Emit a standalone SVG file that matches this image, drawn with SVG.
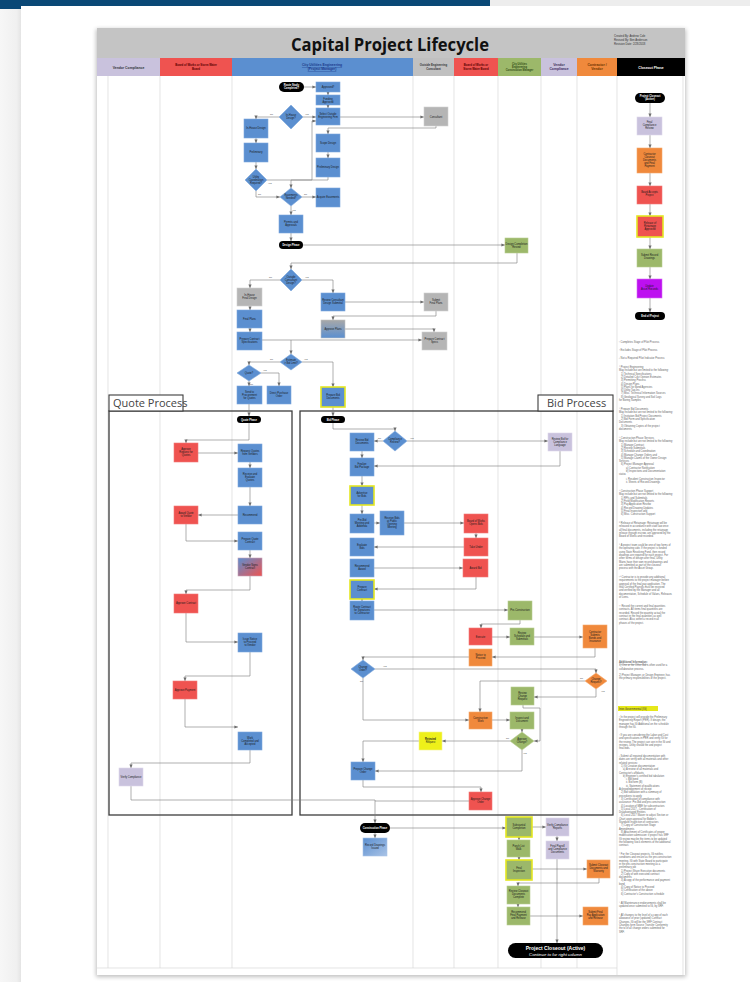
<svg xmlns="http://www.w3.org/2000/svg" width="750" height="982" viewBox="0 0 750 982">
<defs>
<marker id="ah" markerWidth="4" markerHeight="4" refX="3.6" refY="2" orient="auto" markerUnits="userSpaceOnUse"><path d="M0,0.4 L3.8,2 L0,3.6 Z" fill="#6e6e6e"/></marker>
<linearGradient id="gb" x1="0" y1="0" x2="0" y2="1"><stop offset="0" stop-color="#a8a8a8"/><stop offset="1" stop-color="#5b8fd0"/></linearGradient>
<linearGradient id="br" x1="0" y1="0" x2="1" y2="1"><stop offset="0" stop-color="#5b8fd0"/><stop offset="1" stop-color="#ef5350"/></linearGradient>
<linearGradient id="bw" x1="0" y1="0" x2="1" y2="1"><stop offset="0" stop-color="#5b8fd0"/><stop offset="1" stop-color="#a9c3e6"/></linearGradient>
<linearGradient id="edge" x1="0" y1="0" x2="1" y2="0"><stop offset="0" stop-color="#f7f7f7"/><stop offset=".8" stop-color="#f0f0f0"/><stop offset="1" stop-color="#e4e4e4"/></linearGradient>
<filter id="sh" x="-5%" y="-5%" width="110%" height="110%"><feGaussianBlur stdDeviation="2"/></filter>
<style>
.b{fill:#5b8fd0;stroke:#7ea7dc;stroke-width:.6}
.r{fill:#ef5350;stroke:#f27a78;stroke-width:.6}
.g{fill:#b5b5b5;stroke:#cfcfcf;stroke-width:.6}
.gr{fill:#9cb86a;stroke:#b7cc8f;stroke-width:.6}
.l{fill:#c9c2dd;stroke:#ddd8ea;stroke-width:.6}
.o{fill:#f0893c;stroke:#f5a86c;stroke-width:.6}
.y{fill:#eef01a;stroke:#f6f58a;stroke-width:.6}
.m{fill:#bd10f0;stroke:#d66cf6;stroke-width:.6}
.yb{stroke:#e4e622;stroke-width:1.6}
.k{fill:#000}
.t{font-family:"Liberation Sans",Arial,sans-serif;font-size:2.6px;fill:#1a1a1a;text-anchor:middle}
.tw{font-family:"Liberation Sans",Arial,sans-serif;font-size:2.6px;fill:#fff;text-anchor:middle;font-weight:bold}
.yn{font-family:"Liberation Sans",Arial,sans-serif;font-size:2.3px;fill:#444}
.h{font-family:"Liberation Sans",Arial,sans-serif;font-size:3.4px;font-weight:bold;text-anchor:middle}
.n{font-family:"Liberation Sans",Arial,sans-serif;font-size:2.6px;fill:#666}
.lane{stroke:#d9d9d9;stroke-width:.7}
.c path{fill:none;stroke:#7a7a7a;stroke-width:.6}
.c .a{marker-end:url(#ah)}
.box{fill:none;stroke:#3c3c3c;stroke-width:1.3}
.lbl{font-family:"Open Sans","Liberation Sans",sans-serif;font-size:11px;fill:#444}
</style>
</defs>

<!-- page chrome -->
<rect width="750" height="982" fill="#ffffff"/>
<rect x="0" y="0" width="21" height="982" fill="url(#edge)"/>
<rect x="0" y="0" width="490" height="6" fill="#0a4876"/>
<rect x="490" y="0" width="260" height="6" fill="#ededed"/>
<rect x="0" y="6" width="21" height="3" fill="#0a4876"/>

<!-- sheet -->
<rect x="96" y="29" width="590" height="948" fill="#000" opacity=".25" filter="url(#sh)"/>
<rect x="97" y="28" width="588" height="947" fill="#ffffff"/>

<!-- title band -->
<rect x="97" y="28" width="588" height="30" fill="#c4c4c4"/>
<text x="390" y="51" font-family="Open Sans,Liberation Sans,sans-serif" font-size="17" font-weight="bold" fill="#111" text-anchor="middle" textLength="198" lengthAdjust="spacingAndGlyphs">Capital Project Lifecycle</text>
<g class="n" fill="#333">
<text x="614" y="37" style="font-size:2.8px;fill:#333">Created By: Andrew Cole</text>
<text x="614" y="41" style="font-size:2.8px;fill:#333">Revised By: Ben Anderson</text>
<text x="614" y="45" style="font-size:2.8px;fill:#333">Revision Date: 2/28/2018</text>
</g>

<!-- lane headers -->
<g id="lane-headers">
<rect x="97" y="58" width="63" height="18" fill="#c9c2dd"/>
<rect x="160" y="58" width="72" height="18" fill="#ef5350"/>
<rect x="232" y="58" width="181" height="18" fill="#5b8fd0"/>
<rect x="413" y="58" width="41" height="18" fill="#c0c0c0"/>
<rect x="454" y="58" width="44" height="18" fill="#ef5350"/>
<rect x="498" y="58" width="43" height="18" fill="#9cb86a"/>
<rect x="541" y="58" width="36" height="18" fill="#c9c2dd"/>
<rect x="577" y="58" width="40" height="18" fill="#f0893c"/>
<rect x="617" y="58" width="68" height="18" fill="#000"/>
<text class="h" x="128.5" y="68.5" fill="#333">Vendor Compliance</text>
<text class="h" x="196" y="66" fill="#5a0000" style="font-size:2.8px">Board of Works or Storm Water</text>
<text class="h" x="196" y="69.5" fill="#5a0000" style="font-size:2.8px">Board</text>
<text class="h" x="322" y="66" fill="#1b3b8a" text-decoration="underline">City Utilities Engineering</text>
<text class="h" x="322" y="70" fill="#1b3b8a" text-decoration="underline">(Project Manager)</text>
<text class="h" x="433.5" y="66" fill="#333" style="font-size:2.8px">Outside Engineering</text>
<text class="h" x="433.5" y="69.5" fill="#333" style="font-size:2.8px">Consultant</text>
<text class="h" x="476" y="66" fill="#5a0000" style="font-size:2.8px">Board of Works or</text>
<text class="h" x="476" y="69.5" fill="#5a0000" style="font-size:2.8px">Storm Water Board</text>
<text class="h" x="519.5" y="64.5" fill="#2f4a12" style="font-size:2.6px">City Utilities</text>
<text class="h" x="519.5" y="67.8" fill="#2f4a12" style="font-size:2.6px">Engineering</text>
<text class="h" x="519.5" y="71.1" fill="#2f4a12" style="font-size:2.6px">Construction Manager</text>
<text class="h" x="559" y="66" fill="#3a2d5c">Vendor</text>
<text class="h" x="559" y="70" fill="#3a2d5c">Compliance</text>
<text class="h" x="597" y="66" fill="#6a3300">Contractor /</text>
<text class="h" x="597" y="70" fill="#6a3300">Vendor</text>
<text class="h" x="651" y="68.5" fill="#fff">Closeout Phase</text>
</g>

<!-- lane dividers -->
<g id="lanes">
<line class="lane" x1="160" y1="76" x2="160" y2="968"/>
<line class="lane" x1="232" y1="76" x2="232" y2="968"/>
<line class="lane" x1="413" y1="76" x2="413" y2="968"/>
<line class="lane" x1="454" y1="76" x2="454" y2="968"/>
<line class="lane" x1="498" y1="76" x2="498" y2="968"/>
<line class="lane" x1="541" y1="76" x2="541" y2="968"/>
<line class="lane" x1="577" y1="76" x2="577" y2="968"/>
<line class="lane" x1="617" y1="76" x2="617" y2="975"/>
<line class="lane" x1="683" y1="76" x2="683" y2="975"/>
<line class="lane" x1="108" y1="76" x2="108" y2="968"/>
<line class="lane" x1="97" y1="968" x2="617" y2="968"/>
</g>

<!-- process frames -->
<g id="quote-frame">
<rect class="box" x="109" y="411" width="183" height="404"/>
<rect x="109" y="395" width="74" height="16" fill="#fff" stroke="#3c3c3c" stroke-width="1.1"/>
<text class="lbl" x="113" y="407">Quote Process</text>
</g>
<g id="bid-frame">
<rect class="box" x="300" y="411" width="313" height="404"/>
<rect x="538" y="395" width="75" height="16" fill="#fff" stroke="#3c3c3c" stroke-width="1.1"/>
<text class="lbl" x="547" y="407">Bid Process</text>
</g>

<!-- connectors -->
<g id="connectors" class="c">
<!-- planning -->
<path class="a" d="M304,87 H316"/>
<path class="a" d="M328,92 V95"/>
<path class="a" d="M328,105 V108"/>
<path class="a" d="M303,117 H316"/>
<path class="a" d="M340,117 H424"/>
<path class="a" d="M436,126 V128 H328 V134"/>
<path class="a" d="M279,117 H256 V119"/>
<path class="a" d="M256,138 V143"/>
<path class="a" d="M256,162 V169"/>
<path class="a" d="M267,180 H312 V121 H316"/>
<path class="a" d="M328,152 V158"/>
<path class="a" d="M328,177 V180 H291 V188"/>
<path class="a" d="M256,191 V197 H280"/>
<path class="a" d="M302,197 H316"/>
<path class="a" d="M291,206 V215"/>
<path class="a" d="M291,233 V241"/>
<!-- design -->
<path class="a" d="M303,245 H505"/>
<path class="a" d="M517,253 V263 H291 V269"/>
<path class="a" d="M280,280 H250 V288"/>
<path class="a" d="M250,306 V310"/>
<path class="a" d="M250,328 V332"/>
<path class="a" d="M302,280 H333 V293"/>
<path class="a" d="M345,302 H424"/>
<path class="a" d="M436,311 V316 H333 V320"/>
<path class="a" d="M345,329 H434 V332"/>
<path class="a" d="M262,340 H422"/>
<path class="a" d="M291,340 V354"/>
<path class="a" d="M280,362 H249 V365"/>
<path class="a" d="M261,373 H279 V386"/>
<path class="a" d="M249,381 V386"/>
<path class="a" d="M302,362 H333 V387"/>
<path class="a" d="M249,404 V416"/>
<path class="a" d="M333,407 V416"/>
<!-- quote -->
<path class="a" d="M249,423 V440 H186 V443"/>
<path class="a" d="M198,453 H238"/>
<path class="a" d="M250,462 V468"/>
<path class="a" d="M250,487 V506"/>
<path class="a" d="M238,515 H198"/>
<path class="a" d="M186,524 V541 H238"/>
<path class="a" d="M250,550 V558"/>
<path class="a" d="M250,576 V590 H186 V594"/>
<path class="a" d="M186,613 V642 H238"/>
<path class="a" d="M250,652 V676 H185 V681"/>
<path class="a" d="M185,699 V727 H238"/>
<path class="a" d="M250,750 V763 H131 V768"/>
<path d="M131,786 V800 H375"/>
<!-- bid -->
<path class="a" d="M333,423 V429 H395 V431"/>
<path class="a" d="M383,441 H374"/>
<path class="a" d="M407,441 H548"/>
<path class="a" d="M560,451 V466 H374"/>
<path class="a" d="M362,451 V458"/>
<path class="a" d="M362,476 V486"/>
<path class="a" d="M362,505 V514"/>
<path class="a" d="M374,523 H380"/>
<path class="a" d="M404,523 H464"/>
<path class="a" d="M476,533 V538"/>
<path class="a" d="M464,547 H374"/>
<path class="a" d="M374,568 H463"/>
<path class="a" d="M476,577 V589 H374"/>
<path class="a" d="M362,599 V601"/>
<path class="a" d="M374,610 H508"/>
<path class="a" d="M520,620 V624 H481 V628"/>
<path class="a" d="M492,637 H510"/>
<path class="a" d="M534,637 H583"/>
<path class="a" d="M595,648 V657 H492"/>
<path class="a" d="M469,657 H363 V660"/>
<path class="a" d="M375,669 H596 V673"/>
<path class="a" d="M585,681 H480 V712"/>
<path class="a" d="M596,689 V697 H534"/>
<path class="a" d="M363,678 V720 H469"/>
<path class="a" d="M492,720 H510"/>
<path class="a" d="M522,729 V732"/>
<path class="a" d="M523,705 V708 H540 V741 H534"/>
<path class="a" d="M510,741 H442"/>
<path class="a" d="M419,741 H363 V762"/>
<path class="a" d="M522,750 V771 H375"/>
<path class="a" d="M363,780 V787 H481 V792"/>
<path d="M469,801 H375"/>
<!-- construction -->
<path class="a" d="M375,800 V823"/>
<path class="a" d="M375,833 V838"/>
<path class="a" d="M390,828 H506"/>
<path class="a" d="M532,827 H546"/>
<path class="a" d="M519,837 V840"/>
<path class="a" d="M557,836 V841"/>
<path class="a" d="M519,857 V860"/>
<path class="a" d="M532,869 H587"/>
<path class="a" d="M599,878 V883 H518 V886"/>
<path class="a" d="M518,904 V907"/>
<path class="a" d="M530,916 H583"/>
<path class="a" d="M557,859 V943"/>
<!-- closeout -->
<path class="a" d="M650,103 V117"/>
<path class="a" d="M650,135 V148"/>
<path class="a" d="M650,173 V186"/>
<path class="a" d="M650,204 V216"/>
<path class="a" d="M650,237 V249"/>
<path class="a" d="M650,267 V279"/>
<path class="a" d="M650,298 V312"/>
</g>

<!-- decision labels -->
<g id="decision-labels" class="yn">
<text x="305" y="115">Yes</text><text x="270" y="115">No</text>
<text x="268" y="184">Yes</text><text x="258" y="195">No</text>
<text x="304" y="195">No</text><text x="292" y="211">Yes</text>
<text x="305" y="278">Yes</text><text x="269" y="278">No</text>
<text x="304" y="360">Yes</text><text x="270" y="360">No</text>
<text x="263" y="371">Yes</text><text x="250" y="385">No</text>
<text x="378" y="439">No</text><text x="410" y="439">Yes</text>
<text x="383" y="667">Yes</text><text x="360" y="682">No</text>
<text x="580" y="679">No</text><text x="601" y="692">Yes</text>
<text x="506" y="739">No</text><text x="523" y="754">Yes</text>
</g>

<!-- planning phase -->
<g id="route-study"><rect class="k" x="279" y="82" width="25" height="10" rx="5"/><text class="tw" x="291.5" y="86.3">Route Study</text><text class="tw" x="291.5" y="89.3">Completed?</text></g>
<g id="approved"><rect class="b" x="316" y="82" width="24" height="10"/><text class="t" x="328" y="87.8">Approved?</text></g>
<g id="funding"><rect class="b" x="316" y="95" width="24" height="10"/><text class="t" x="328" y="99.5">Funding</text><text class="t" x="328" y="102.5">Approved</text></g>
<g id="select-firm"><rect class="b" x="316" y="108" width="24" height="17"/><text class="t" x="328" y="115">Select Outside</text><text class="t" x="328" y="118">Engineering Firm</text></g>
<g id="in-house"><polygon class="b" points="291,105 303,117 291,129 279,117"/><text class="t" x="291" y="116">In-House</text><text class="t" x="291" y="119">Design?</text></g>
<g id="consultant"><rect class="g" x="424" y="107" width="24" height="19"/><text class="t" x="436" y="117.5">Consultant</text></g>
<g id="scope-design"><rect class="b" x="316" y="134" width="24" height="18"/><text class="t" x="328" y="143.8">Scope Design</text></g>
<g id="in-house-design"><rect class="b" x="244" y="119" width="24" height="19"/><text class="t" x="256" y="129">In-House Design</text></g>
<g id="preliminary"><rect class="b" x="244" y="143" width="24" height="19"/><text class="t" x="256" y="153">Preliminary</text></g>
<g id="utility-coord"><polygon class="b" points="256,169 267,180 256,191 245,180"/><text class="t" x="256" y="178">Utility</text><text class="t" x="256" y="181">Coordination</text><text class="t" x="256" y="184">Required?</text></g>
<g id="prelim-design"><rect class="b" x="316" y="158" width="24" height="19"/><text class="t" x="328" y="168">Preliminary Design</text></g>
<g id="easements"><polygon class="b" points="291,188 302,197 291,206 280,197"/><text class="t" x="291" y="196">Easements</text><text class="t" x="291" y="199">Needed?</text></g>
<g id="acquire-easements"><rect class="b" x="316" y="188" width="24" height="19"/><text class="t" x="328" y="198">Acquire Easements</text></g>
<g id="permits"><rect class="b" x="279" y="215" width="24" height="18"/><text class="t" x="291" y="223">Permits and</text><text class="t" x="291" y="226">Approvals</text></g>
<g id="design-phase"><rect class="k" x="279" y="241" width="24" height="8" rx="4"/><text class="tw" x="291" y="246">Design Phase</text></g>

<!-- design phase -->
<g id="design-review"><rect class="gr" x="505" y="238" width="23" height="15"/><text class="t" x="516.5" y="244.5">Design Completion</text><text class="t" x="516.5" y="247.5">Review</text></g>
<g id="outside-consultant"><polygon class="b" points="291,269 302,280 291,291 280,280"/><text class="t" x="291" y="278">Outside</text><text class="t" x="291" y="281">Consultant</text><text class="t" x="291" y="284">Design?</text></g>
<g id="inhouse-final"><rect class="g" x="237" y="288" width="25" height="18"/><text class="t" x="249.5" y="296">In-House</text><text class="t" x="249.5" y="299">Final Design</text></g>
<g id="final-plans"><rect class="b" x="237" y="310" width="25" height="18"/><text class="t" x="249.5" y="319.8">Final Plans</text></g>
<g id="prepare-specs"><rect class="b" x="237" y="332" width="25" height="18"/><text class="t" x="249.5" y="340">Prepare Contract</text><text class="t" x="249.5" y="343">Specifications</text></g>
<g id="review-submittal"><rect class="b" x="321" y="293" width="24" height="18"/><text class="t" x="333" y="301">Review Consultant</text><text class="t" x="333" y="304">Design Submittal</text></g>
<g id="submit-plans"><rect class="g" x="424" y="293" width="24" height="18"/><text class="t" x="436" y="301">Submit</text><text class="t" x="436" y="304">Final Plans</text></g>
<g id="approve-plans"><rect x="321" y="320" width="24" height="18" fill="url(#gb)" stroke="#c4c4c4" stroke-width=".6"/><text class="t" x="333" y="329.8">Approve Plans</text></g>
<g id="consultant-specs"><rect class="g" x="422" y="332" width="25" height="18"/><text class="t" x="434.5" y="340">Prepare Contract</text><text class="t" x="434.5" y="343">Specs</text></g>
<g id="quote-or-bid"><polygon class="b" points="291,354 302,362 291,370 280,362"/><text class="t" x="291" y="361">Estimate</text><text class="t" x="291" y="364">&gt; Bid Limit?</text></g>
<g id="quote-needed"><polygon class="b" points="249,365 261,373 249,381 237,373"/><text class="t" x="249" y="374">Quote?</text></g>
<g id="quote-request"><rect class="b" x="237" y="386" width="25" height="18"/><text class="t" x="249.5" y="393">Send to</text><text class="t" x="249.5" y="396">Procurement</text><text class="t" x="249.5" y="399">for Quotes</text></g>
<g id="direct-purchase"><rect class="b" x="267" y="386" width="24" height="18"/><text class="t" x="279" y="394">Direct Purchase</text><text class="t" x="279" y="397">Order</text></g>
<g id="bid-request"><rect class="b yb" x="321" y="387" width="24" height="20"/><text class="t" x="333" y="396">Prepare Bid</text><text class="t" x="333" y="399">Documents</text></g>

<!-- quote process -->
<g id="quote-phase"><rect class="k" x="237" y="416" width="24" height="7" rx="3.5"/><text class="tw" x="249" y="420.6">Quote Phase</text></g>
<g id="q-approve-request"><rect class="r" x="174" y="443" width="24" height="19"/><text class="t" x="186" y="450">Approve</text><text class="t" x="186" y="453">Request for</text><text class="t" x="186" y="456">Quotes</text></g>
<g id="q-advertise"><rect class="b" x="238" y="444" width="24" height="18"/><text class="t" x="250" y="452">Request Quotes</text><text class="t" x="250" y="455">from Vendors</text></g>
<g id="q-receive"><rect class="b" x="238" y="468" width="24" height="19"/><text class="t" x="250" y="475">Receive and</text><text class="t" x="250" y="478">Evaluate</text><text class="t" x="250" y="481">Quotes</text></g>
<g id="q-recommend"><rect class="b" x="238" y="506" width="24" height="18"/><text class="t" x="250" y="515.8">Recommend</text></g>
<g id="q-award"><rect class="r" x="174" y="506" width="24" height="18"/><text class="t" x="186" y="514">Award Quote</text><text class="t" x="186" y="517">to Vendor</text></g>
<g id="q-contract"><rect class="b" x="238" y="532" width="24" height="18"/><text class="t" x="250" y="540">Prepare Quote</text><text class="t" x="250" y="543">Contract</text></g>
<g id="q-sign"><rect x="238" y="558" width="24" height="18" fill="url(#br)" stroke="#c7a0b6" stroke-width=".6"/><text class="t" x="250" y="566">Vendor Signs</text><text class="t" x="250" y="569">Contract</text></g>
<g id="q-approve-contract"><rect class="r" x="174" y="594" width="24" height="19"/><text class="t" x="186" y="604">Approve Contract</text></g>
<g id="q-notice"><rect class="b" x="238" y="633" width="24" height="19"/><text class="t" x="250" y="640">Issue Notice</text><text class="t" x="250" y="643">to Proceed</text><text class="t" x="250" y="646">to Vendor</text></g>
<g id="q-payment"><rect class="r" x="173" y="681" width="24" height="18"/><text class="t" x="185" y="690.8">Approve Payment</text></g>
<g id="q-complete"><rect class="b" x="238" y="732" width="24" height="18"/><text class="t" x="250" y="739">Work</text><text class="t" x="250" y="742">Completed and</text><text class="t" x="250" y="745">Accepted</text></g>
<g id="q-compliance"><rect class="l" x="119" y="768" width="24" height="18"/><text class="t" x="131" y="777.8">Verify Compliance</text></g>

<!-- bid process -->
<g id="bid-phase"><rect class="k" x="321" y="416" width="24" height="7" rx="3.5"/><text class="tw" x="333" y="420.6">Bid Phase</text></g>
<g id="b-review-docs"><rect class="b" x="350" y="433" width="24" height="18"/><text class="t" x="362" y="441">Review Bid</text><text class="t" x="362" y="444">Documents</text></g>
<g id="b-compliance-needed"><polygon class="b" points="395,431 407,441 395,451 383,441"/><text class="t" x="395" y="440">Compliance</text><text class="t" x="395" y="443">Review?</text></g>
<g id="b-compliance"><rect class="l" x="548" y="433" width="24" height="18"/><text class="t" x="560" y="440">Review Bid for</text><text class="t" x="560" y="443">Compliance</text><text class="t" x="560" y="446">Language</text></g>
<g id="b-finalize"><rect class="b" x="350" y="458" width="24" height="18"/><text class="t" x="362" y="465">Finalize</text><text class="t" x="362" y="468">Bid Package</text></g>
<g id="b-advertise"><rect class="b yb" x="350" y="486" width="24" height="19"/><text class="t" x="362" y="494">Advertise</text><text class="t" x="362" y="497">for Bids</text></g>
<g id="b-prebid"><rect class="b" x="350" y="514" width="24" height="19"/><text class="t" x="362" y="521">Pre-Bid</text><text class="t" x="362" y="524">Meeting and</text><text class="t" x="362" y="527">Addenda</text></g>
<g id="b-open"><rect class="b" x="380" y="511" width="24" height="24"/><text class="t" x="392" y="519">Receive Bids</text><text class="t" x="392" y="522">at Public</text><text class="t" x="392" y="525">Opening</text><text class="t" x="392" y="528">Meeting</text></g>
<g id="b-board-open"><rect class="r" x="464" y="514" width="24" height="19"/><text class="t" x="476" y="522">Board of Works</text><text class="t" x="476" y="525">Opens Bids</text></g>
<g id="b-takes-under"><rect class="r" x="464" y="538" width="24" height="18"/><text class="t" x="476" y="547.8">Take Under</text></g>
<g id="b-evaluate"><rect class="b" x="350" y="538" width="24" height="18"/><text class="t" x="362" y="546">Evaluate</text><text class="t" x="362" y="549">Bids</text></g>
<g id="b-recommend"><rect class="b" x="350" y="559" width="24" height="18"/><text class="t" x="362" y="567">Recommend</text><text class="t" x="362" y="570">Award</text></g>
<g id="b-award"><rect class="r" x="463" y="559" width="25" height="18"/><text class="t" x="475.5" y="568.8">Award Bid</text></g>
<g id="b-contract"><rect class="b yb" x="350" y="580" width="24" height="19"/><text class="t" x="362" y="588">Prepare</text><text class="t" x="362" y="591">Contract</text></g>
<g id="b-route"><rect class="b" x="350" y="601" width="24" height="19"/><text class="t" x="362" y="608">Route Contract</text><text class="t" x="362" y="611">for Signatures</text><text class="t" x="362" y="614">to Contractor</text></g>
<g id="b-precon"><rect class="gr" x="508" y="601" width="24" height="19"/><text class="t" x="520" y="611">Pre-Construction</text></g>
<g id="b-execute"><rect class="r" x="469" y="628" width="23" height="17"/><text class="t" x="480.5" y="637.5">Execute</text></g>
<g id="b-schedule"><rect class="gr" x="510" y="628" width="24" height="17"/><text class="t" x="522" y="634">Review</text><text class="t" x="522" y="637">Schedule and</text><text class="t" x="522" y="640">Submittals</text></g>
<g id="b-contractor-submit"><rect class="o" x="583" y="625" width="24" height="23"/><text class="t" x="595" y="633">Contractor</text><text class="t" x="595" y="636">Submits</text><text class="t" x="595" y="639">Bonds and</text><text class="t" x="595" y="642">Insurance</text></g>
<g id="b-notice"><rect class="o" x="469" y="649" width="23" height="17"/><text class="t" x="480.5" y="656">Notice to</text><text class="t" x="480.5" y="659">Proceed</text></g>
<g id="b-change"><polygon class="b" points="363,660 375,669 363,678 351,669"/><text class="t" x="363" y="668">Change</text><text class="t" x="363" y="671">Order?</text></g>
<g id="b-change-request"><polygon class="o" points="596,673 607,681 596,689 585,681"/><text class="t" x="596" y="680">Change</text><text class="t" x="596" y="683">Request?</text></g>
<g id="b-review-change"><rect class="gr" x="511" y="687" width="23" height="18"/><text class="t" x="522.5" y="694">Review</text><text class="t" x="522.5" y="697">Change</text><text class="t" x="522.5" y="700">Request</text></g>
<g id="b-construct"><rect class="o" x="469" y="712" width="23" height="17"/><text class="t" x="480.5" y="719">Construction</text><text class="t" x="480.5" y="722">Work</text></g>
<g id="b-inspect"><rect class="gr" x="510" y="712" width="24" height="17"/><text class="t" x="522" y="719">Inspect and</text><text class="t" x="522" y="722">Document</text></g>
<g id="b-approve-change"><polygon class="gr" points="522,732 534,741 522,750 510,741"/><text class="t" x="522" y="740">Approve</text><text class="t" x="522" y="743">Change?</text></g>
<g id="b-rejected"><rect class="y" x="419" y="732" width="23" height="18"/><text class="t" x="430.5" y="740" style="font-weight:bold">Rejected</text><text class="t" x="430.5" y="743">Request</text></g>
<g id="b-change-order"><rect class="b" x="351" y="762" width="24" height="18"/><text class="t" x="363" y="770">Prepare Change</text><text class="t" x="363" y="773">Order</text></g>
<g id="b-approve-co"><rect class="r" x="469" y="792" width="23" height="18"/><text class="t" x="480.5" y="800">Approve Change</text><text class="t" x="480.5" y="803">Order</text></g>

<!-- construction phase -->
<g id="construction-phase"><rect class="k" x="360" y="823" width="30" height="10" rx="5"/><text class="tw" x="375" y="829">Construction Phase</text></g>
<g id="c-record"><rect x="363" y="838" width="24" height="18" fill="url(#bw)" stroke="#a9c3e6" stroke-width=".6"/><text class="t" x="375" y="846">Record Drawings</text><text class="t" x="375" y="849">Issued</text></g>
<g id="c-substantial"><rect class="gr yb" x="506" y="817" width="26" height="20"/><text class="t" x="519" y="826">Substantial</text><text class="t" x="519" y="829">Completion</text></g>
<g id="c-compliance"><rect class="l" x="546" y="818" width="23" height="18"/><text class="t" x="557.5" y="826">Verify Compliance</text><text class="t" x="557.5" y="829">Reports</text></g>
<g id="c-punch"><rect class="gr" x="507" y="840" width="23" height="17"/><text class="t" x="518.5" y="847">Punch List</text><text class="t" x="518.5" y="850">Walk</text></g>
<g id="c-final-compliance"><rect class="l" x="546" y="841" width="23" height="18"/><text class="t" x="557.5" y="847">Final Payroll</text><text class="t" x="557.5" y="850">and Compliance</text><text class="t" x="557.5" y="853">Documents</text></g>
<g id="c-final"><rect class="gr yb" x="506" y="860" width="26" height="20"/><text class="t" x="519" y="869">Final</text><text class="t" x="519" y="872">Inspection</text></g>
<g id="c-closeout-docs"><rect class="o" x="587" y="860" width="23" height="18"/><text class="t" x="598.5" y="866">Submit Closeout</text><text class="t" x="598.5" y="869">Documents and</text><text class="t" x="598.5" y="872">Warranty</text></g>
<g id="c-review-docs"><rect class="gr" x="507" y="886" width="23" height="18"/><text class="t" x="518.5" y="892">Review Closeout</text><text class="t" x="518.5" y="895">Documents</text><text class="t" x="518.5" y="898">Complete</text></g>
<g id="c-final-pay"><rect class="gr" x="507" y="907" width="23" height="18"/><text class="t" x="518.5" y="913">Recommend</text><text class="t" x="518.5" y="916">Final Payment</text><text class="t" x="518.5" y="919">and Release</text></g>
<g id="c-final-invoice"><rect class="o" x="583" y="907" width="25" height="18"/><text class="t" x="595.5" y="913">Submit Final</text><text class="t" x="595.5" y="916">Pay Application</text><text class="t" x="595.5" y="919">and Release</text></g>
<g id="closeout-active"><rect class="k" x="508" y="943" width="95" height="15" rx="7.5"/>
<text x="555.5" y="949.8" font-family="Liberation Sans,Arial,sans-serif" font-size="5" font-weight="bold" fill="#fff" text-anchor="middle">Project Closeout (Active)</text>
<text x="555.5" y="955.6" font-family="Liberation Sans,Arial,sans-serif" font-size="4.3" font-style="italic" fill="#fff" text-anchor="middle">Continue to far right column</text></g>

<!-- closeout column -->
<g id="k-start"><rect class="k" x="635" y="93" width="30" height="10" rx="5"/><text class="tw" x="650" y="97.3">Project Closeout</text><text class="tw" x="650" y="100.3">(Active)</text></g>
<g id="k-compliance"><rect class="l" x="637" y="117" width="25" height="18"/><text class="t" x="649.5" y="123">Final</text><text class="t" x="649.5" y="126">Compliance</text><text class="t" x="649.5" y="129">Review</text></g>
<g id="k-contractor"><rect class="o" x="637" y="148" width="25" height="25"/><text class="t" x="649.5" y="155">Contractor</text><text class="t" x="649.5" y="158">Closeout</text><text class="t" x="649.5" y="161">Documents</text><text class="t" x="649.5" y="164">and Final</text><text class="t" x="649.5" y="167">Payment</text></g>
<g id="k-board"><rect class="r" x="637" y="186" width="25" height="18"/><text class="t" x="649.5" y="193">Board Accepts</text><text class="t" x="649.5" y="196">Project</text></g>
<g id="k-release"><rect class="r yb" x="637" y="216" width="26" height="21"/><text class="t" x="650" y="224">Release of</text><text class="t" x="650" y="227">Retainage</text><text class="t" x="650" y="230">Approved</text></g>
<g id="k-record"><rect class="gr" x="637" y="249" width="25" height="18"/><text class="t" x="649.5" y="256">Submit Record</text><text class="t" x="649.5" y="259">Drawings</text></g>
<g id="k-asset"><rect class="m" x="637" y="279" width="25" height="19"/><text class="t" x="649.5" y="287">Update</text><text class="t" x="649.5" y="290">Asset Records</text></g>
<g id="k-end"><rect class="k" x="635" y="312" width="30" height="8" rx="4"/><text class="tw" x="650" y="317">End of Project</text></g>

<!-- footnotes -->
<g id="notes" class="n">
<text x="619" y="343">¹ Completes Stage of Pilot Process</text>
<text x="619" y="351">² Excludes Stage of Pilot Process</text>
<text x="619" y="359">³ Not a Required Pilot Indicator Process</text>
<text x="619" y="368">⁴ Project Engineering</text>
<text x="619" y="371.3">May include but are limited to the following:</text>
<text x="621" y="374.6">1) Technical Specifications</text>
<text x="621" y="377.9">2) Detailed Cost Opinion Estimates</text>
<text x="621" y="381.2">3) Permitting Process</text>
<text x="621" y="384.5">4) Design Plans</text>
<text x="621" y="387.8">5) Plans for Bond Agencies</text>
<text x="621" y="391.1">6) Utility Tap-Ins</text>
<text x="621" y="394.4">7) Misc. Technical Information Sources</text>
<text x="621" y="397.7">8) Geological Survey and Soil Logs</text>
<text x="619" y="401">for Boring Samples</text>
<text x="619" y="410">⁵ Prepare Bid Documents</text>
<text x="619" y="413.3">May include but are not limited to the following:</text>
<text x="621" y="416.6">1) Invitation Bid Project Documents</text>
<text x="621" y="419.9">2) Bid Form and Specification</text>
<text x="619" y="423.2">Documents</text>
<text x="621" y="426.5">3) Obtaining Copies of the project</text>
<text x="619" y="429.8">documents</text>
<text x="619" y="439">⁶ Construction Phase Services</text>
<text x="619" y="442.3">May include but are not limited to the following:</text>
<text x="621" y="445.6">1) Manage Contract</text>
<text x="621" y="448.9">2) Review Submittals</text>
<text x="621" y="452.2">3) Schedule and Coordination</text>
<text x="621" y="455.5">4) Manage Change Orders and</text>
<text x="621" y="458.8">5) Manage Claims of the Owner Design</text>
<text x="619" y="462.1">Services</text>
<text x="621" y="465.4">6) Project Manager Approval</text>
<text x="626" y="468.7">a) Contractor Notification</text>
<text x="626" y="472">b) Inspections and Documentation</text>
<text x="619" y="475.3">status</text>
<text x="626" y="480">i. Resident Construction Inspector</text>
<text x="626" y="483.3">ii. Sheets of Record Drawings</text>
<text x="619" y="492">⁷ Construction Phase Support</text>
<text x="619" y="495.3">May include but are not limited to the following:</text>
<text x="621" y="498.6">1) RFIs and Submittals</text>
<text x="621" y="501.9">2) Field Modification Reports</text>
<text x="621" y="505.2">3) Pay Application Review</text>
<text x="621" y="508.5">4) Record Drawing Updates</text>
<text x="621" y="511.8">5) Final Inspection and</text>
<text x="621" y="515.1">6) Misc. Construction Support</text>
<text x="619" y="524">⁸ Release of Retainage: Retainage will be</text>
<text x="619" y="527.3">released in accordance with state law once</text>
<text x="619" y="530.6">all final documents, including the retainage</text>
<text x="619" y="533.9">release through escrow, are approved by the</text>
<text x="619" y="537.2">Board of Works and recorded.</text>
<text x="619" y="546">⁹ A project team could be one of two forms of</text>
<text x="619" y="549.3">the operating side. If the project is funded</text>
<text x="619" y="552.6">using State Revolving Fund, then record</text>
<text x="619" y="555.9">drawings are required for each project. For</text>
<text x="619" y="559.2">other forms of design after final, Utility</text>
<text x="619" y="562.5">Mains have their own record drawings and</text>
<text x="619" y="565.8">are submitted as part of the closeout</text>
<text x="619" y="569.1">process with the Asset Group.</text>
<text x="619" y="578">¹⁰ Contractor is to provide any additional</text>
<text x="619" y="581.3">requirements to the project manager before</text>
<text x="619" y="584.6">approval of the final pay application. The</text>
<text x="619" y="587.9">final Certified Payrolls must be received</text>
<text x="619" y="591.2">and verified by the Manager and all</text>
<text x="619" y="594.5">documentation, Schedule of Values, Releases</text>
<text x="619" y="597.8">of Liens.</text>
<text x="619" y="607">¹¹ Record the current and final quantities</text>
<text x="619" y="610.3">contracts. All items final quantities are</text>
<text x="619" y="613.6">recorded. Record the quantity actual the</text>
<text x="619" y="616.9">contract in the final quantities as well</text>
<text x="619" y="620.2">contract. Also, within a record in all</text>
<text x="619" y="623.5">phases of the project.</text>
<text x="619" y="663" style="font-weight:bold;text-decoration:underline">Additional Information:</text>
<text x="619" y="666.3">1) One or the Other Bid is often used for a</text>
<text x="619" y="669.6">collaborative process.</text>
<text x="619" y="676">2) Project Manager, or Design Engineer, has</text>
<text x="619" y="679.3">the primary responsibilities of the project.</text>
<rect x="618" y="706" width="40" height="5" fill="#e6e81a"/>
<text x="619" y="709.8" style="fill:#333">Inter-Governmental (IG)</text>
<text x="619" y="718">¹ In the project will provide the Preliminary</text>
<text x="619" y="721.3">Engineering Report (PER). If design, the</text>
<text x="619" y="724.6">manager has IG Additional on the schedule</text>
<text x="619" y="727.9">through the IG.</text>
<text x="619" y="736">² If you are considering the Labor and Cost</text>
<text x="619" y="739.3">and specifications in PER and verify IG for</text>
<text x="619" y="742.6">the review. The project can see in the IG and</text>
<text x="619" y="745.9">reviews. Utility should the and project</text>
<text x="619" y="749.2">final bids.</text>
<text x="619" y="757">³ Submit all required documentation with</text>
<text x="619" y="760.3">dates are verify with all materials and other</text>
<text x="619" y="763.6">related services:</text>
<text x="621" y="766.9">1) IG Creation documentation</text>
<text x="623" y="770.2">a) A review of all materials and</text>
<text x="619" y="773.5">Contractor's affidavits</text>
<text x="623" y="776.8">b) Engineer's certified bid tabulation</text>
<text x="626" y="780.1">i. Bid bond</text>
<text x="626" y="783.4">ii. Bid form (B)</text>
<text x="626" y="786.7">iii. Statement of qualifications</text>
<text x="619" y="790">Acknowledgement of receipt</text>
<text x="621" y="793.3">2) Bid tabulation with a summary of</text>
<text x="619" y="796.6">procedures to apply</text>
<text x="621" y="799.9">3) Certification of compliance with</text>
<text x="619" y="803.2">assurance: Pre-Bid and pre-construction</text>
<text x="621" y="806.5">4) Location of MBE for subcontractors</text>
<text x="621" y="809.8">5) Local 2017 - Certification of</text>
<text x="619" y="813.1">Disadvantaged Entities</text>
<text x="621" y="816.4">6) Local 2017 Waiver to adjust Section or</text>
<text x="619" y="819.7">Chart upon approval for Bidder's</text>
<text x="619" y="823">Standard Inspection of contractors</text>
<text x="621" y="826.3">7) Copy of Construction Stage</text>
<text x="619" y="829.6">Amendments</text>
<text x="621" y="832.9">8) Attachment of Certificates of proper</text>
<text x="619" y="836.2">modification submission: if project has SRF</text>
<text x="619" y="839.5">IG review may be the items to be updated</text>
<text x="619" y="842.8">the following stock elements of the additional</text>
<text x="619" y="846.1">contract.</text>
<text x="619" y="855">⁴ For the Closeout projects, IG notifies</text>
<text x="619" y="858.3">conditions and ensure as the pre-construction</text>
<text x="619" y="861.6">meeting. IG with State Board to participate</text>
<text x="619" y="864.9">in the pre-construction meeting as a</text>
<text x="619" y="868.2">preliminary job</text>
<text x="621" y="871.5">1) Project Share Executive documents</text>
<text x="621" y="874.8">2) Copy of with executed contract</text>
<text x="619" y="878.1">documents</text>
<text x="621" y="881.4">3) A copy of the performance and payment</text>
<text x="619" y="884.7">bond</text>
<text x="621" y="888">4) Copy of Notice to Proceed</text>
<text x="621" y="891.3">5) Certification of the above</text>
<text x="621" y="894.6">6) Contractor's Construction schedule</text>
<text x="619" y="904">⁵ All Maintenance endorsements shall be</text>
<text x="619" y="907.3">updated once submitted to IG, by SRF.</text>
<text x="619" y="916">⁶ All changes to the level of a copy of each</text>
<text x="619" y="919.3">allowance of prior (updated) Contract</text>
<text x="619" y="922.6">Changes. IG will be the SRF Contract</text>
<text x="619" y="925.9">Changes form Source Transfer Conformity</text>
<text x="619" y="929.2">the to of all change orders submitted for</text>
<text x="619" y="932.5">SRF.</text>
</g>
</svg>
